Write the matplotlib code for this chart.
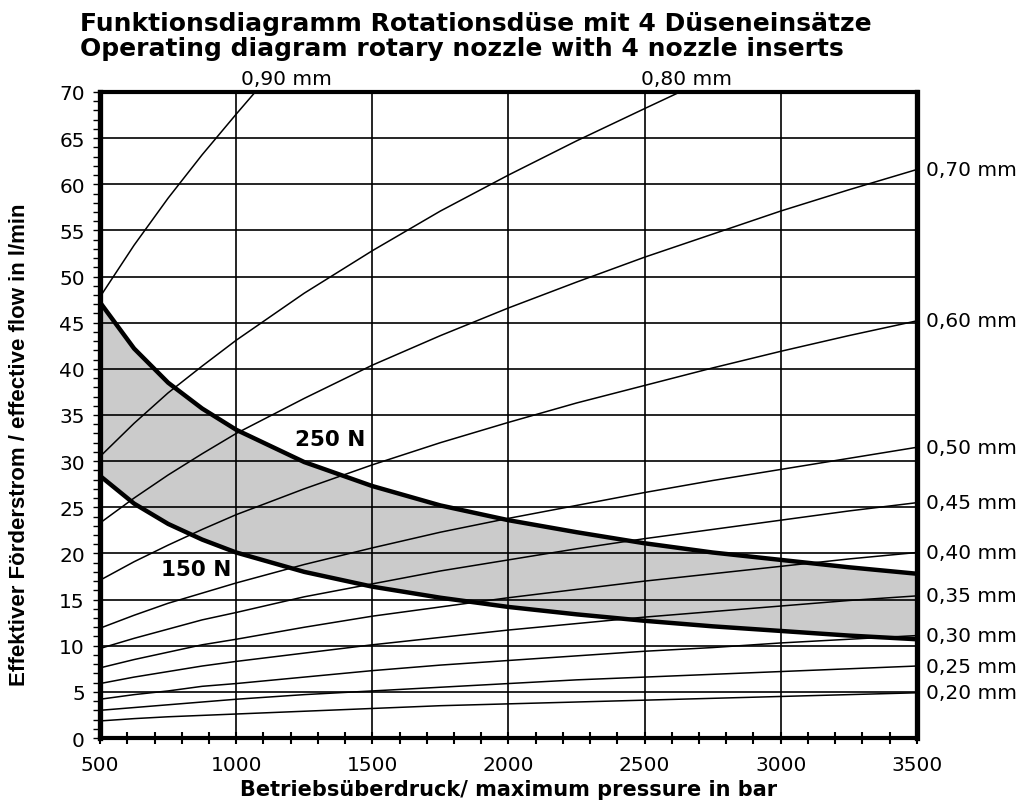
import matplotlib
matplotlib.use("Agg")
import matplotlib.pyplot as plt
from matplotlib.ticker import MultipleLocator

# pressure steps (bar) used for reading the curves
pressure = [500, 625, 750, 875, 1000, 1250, 1500, 1750, 2000, 2250, 2500, 2750, 3000, 3250, 3500]

# nozzle curves (l/min)
flow_070 = [23.3, 26.0, 28.5, 30.8, 33.0, 36.8, 40.4, 43.6, 46.6, 49.4, 52.1, 54.6, 57.1, 59.4, 61.6]
flow_060 = [17.1, 19.1, 20.9, 22.6, 24.2, 27.0, 29.6, 32.0, 34.2, 36.3, 38.2, 40.1, 41.9, 43.6, 45.2]
flow_050 = [11.9, 13.3, 14.6, 15.7, 16.8, 18.8, 20.6, 22.3, 23.8, 25.2, 26.6, 27.9, 29.1, 30.3, 31.5]
flow_045 = [9.7, 10.8, 11.8, 12.8, 13.6, 15.3, 16.7, 18.1, 19.3, 20.5, 21.6, 22.6, 23.6, 24.6, 25.5]
flow_040 = [7.6, 8.5, 9.3, 10.1, 10.7, 12.0, 13.2, 14.2, 15.2, 16.1, 17.0, 17.8, 18.6, 19.4, 20.1]
flow_035 = [5.9, 6.6, 7.2, 7.8, 8.3, 9.2, 10.1, 10.9, 11.7, 12.4, 13.1, 13.7, 14.3, 14.9, 15.4]
flow_030 = [4.2, 4.7, 5.1, 5.6, 5.9, 6.6, 7.3, 7.9, 8.4, 8.9, 9.4, 9.8, 10.3, 10.7, 11.1]
flow_025 = [3.0, 3.3, 3.6, 3.9, 4.2, 4.7, 5.1, 5.5, 5.9, 6.3, 6.6, 6.9, 7.2, 7.5, 7.8]
flow_020 = [1.85, 2.1, 2.3, 2.45, 2.6, 2.9, 3.2, 3.5, 3.7, 3.9, 4.1, 4.3, 4.5, 4.7, 4.9]

# the two big nozzles leave the chart at the top
pressure_090 = [500, 625, 750, 875, 1000, 1070]
flow_090 = [47.8, 53.4, 58.5, 63.2, 67.6, 70.0]
pressure_080 = [500, 625, 750, 875, 1000, 1250, 1500, 1750, 2000, 2250, 2500, 2630]
flow_080 = [30.5, 34.1, 37.4, 40.3, 43.1, 48.2, 52.8, 57.1, 61.0, 64.7, 68.2, 70.0]

# reaction force limits
force_250 = [47.2, 42.2, 38.5, 35.7, 33.4, 29.9, 27.3, 25.2, 23.6, 22.3, 21.1, 20.1, 19.3, 18.5, 17.8]
force_150 = [28.4, 25.4, 23.2, 21.5, 20.1, 18.0, 16.4, 15.2, 14.2, 13.4, 12.7, 12.1, 11.6, 11.1, 10.7]

right_labels = ["0,70 mm", "0,60 mm", "0,50 mm", "0,45 mm", "0,40 mm",
                "0,35 mm", "0,30 mm", "0,25 mm", "0,20 mm"]
right_curves = [flow_070, flow_060, flow_050, flow_045, flow_040,
                flow_035, flow_030, flow_025, flow_020]

fig = plt.figure(figsize=(10.21, 8.03), dpi=100)
ax = fig.add_axes([0.098, 0.0797, 0.80, 0.8045])

ax.fill_between(pressure, force_150, force_250, color="#cbcbcb", zorder=1, lw=0)

for x in [1000, 1500, 2000, 2500, 3000]:
    ax.axvline(x, color="black", lw=1.2, zorder=2)
for y in range(5, 70, 5):
    ax.axhline(y, color="black", lw=1.2, zorder=2)

for fl in right_curves:
    ax.plot(pressure, fl, color="black", lw=1.1, zorder=3)
ax.plot(pressure_090, flow_090, color="black", lw=1.1, zorder=3)
ax.plot(pressure_080, flow_080, color="black", lw=1.1, zorder=3)

ax.plot(pressure, force_250, color="black", lw=3.2, zorder=4)
ax.plot(pressure, force_150, color="black", lw=3.2, zorder=4)

ax.set_xlim(500, 3500)
ax.set_ylim(0, 70)

lab_font = dict(family="DejaVu Sans", fontsize=14.5)
for lab, fl in zip(right_labels, right_curves):
    ax.text(3535, fl[-1], lab, ha="left", va="center", clip_on=False, **lab_font)
ax.text(1184, 70.4, "0,90 mm", ha="center", va="bottom", clip_on=False, **lab_font)
ax.text(2655, 70.4, "0,80 mm", ha="center", va="bottom", clip_on=False, **lab_font)

ax.text(1346, 32.4, "250 N", ha="center", va="center", fontsize=15.5,
        fontweight="bold", family="DejaVu Sans", zorder=5)
ax.text(853, 18.3, "150 N", ha="center", va="center", fontsize=15.5,
        fontweight="bold", family="DejaVu Sans", zorder=5)

ax.xaxis.set_major_locator(MultipleLocator(500))
ax.xaxis.set_minor_locator(MultipleLocator(100))
ax.yaxis.set_major_locator(MultipleLocator(5))
ax.yaxis.set_minor_locator(MultipleLocator(1))
ax.tick_params(axis="x", which="both", direction="inout", length=8, width=1.5, pad=8)
ax.tick_params(axis="y", which="both", direction="out", length=5, width=1, pad=6)
for t in ax.get_xticklabels() + ax.get_yticklabels():
    t.set_family("DejaVu Sans")
    t.set_fontsize(14.5)

for side in ["top", "bottom"]:
    ax.spines[side].set_linewidth(3)
for side in ["left", "right"]:
    ax.spines[side].set_linewidth(3.8)
for s in ax.spines.values():
    s.set_zorder(6)

ax.set_xlabel("Betriebsüberdruck/ maximum pressure in bar", fontsize=15,
              fontweight="bold", family="DejaVu Sans", labelpad=4)
ax.set_ylabel("Effektiver Förderstrom / effective flow in l/min", fontsize=16,
              fontweight="bold", family=["Liberation Sans Narrow", "Liberation Sans"])
ax.yaxis.set_label_coords(-0.086, 0.455)

fig.text(0.078, 0.961, "Funktionsdiagramm Rotationsdüse mit 4 Düseneinsätze",
         fontsize=18, fontweight="bold", family="DejaVu Sans", va="baseline")
fig.text(0.078, 0.930, "Operating diagram rotary nozzle with 4 nozzle inserts",
         fontsize=18, fontweight="bold", family="DejaVu Sans", va="baseline")

fig.savefig("out.png", dpi=100)
